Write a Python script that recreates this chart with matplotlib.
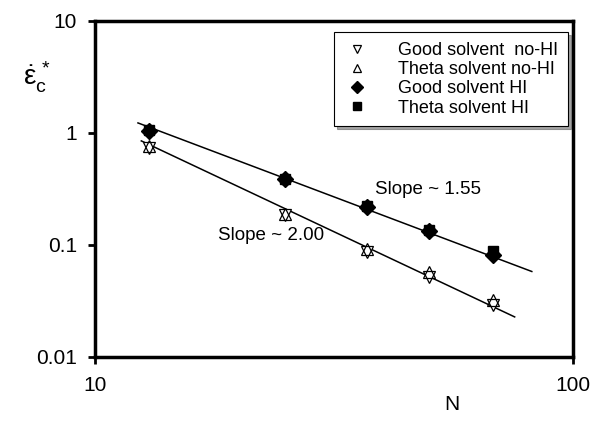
import matplotlib
matplotlib.use("Agg")
import matplotlib.pyplot as plt
from matplotlib.ticker import FixedLocator, FixedFormatter, NullLocator

# Data
N = [13, 25, 37, 50, 68]
good_noHI = [0.73, 0.185, 0.087, 0.052, 0.029]
theta_noHI = [0.77, 0.19, 0.092, 0.057, 0.032]
good_HI = [1.05, 0.385, 0.22, 0.133, 0.082]
theta_HI = [1.06, 0.39, 0.222, 0.136, 0.088]

# fitted power-law lines (end points)
fit_hi_N = [12.3, 82]
fit_hi = [1.23, 0.058]
fit_lo_N = [12.5, 75.5]
fit_lo = [0.85, 0.0228]

plt.rcParams["font.family"] = ["Liberation Sans", "DejaVu Sans"]
plt.rcParams["mathtext.fontset"] = "custom"
plt.rcParams["mathtext.rm"] = "Liberation Sans"
plt.rcParams["mathtext.it"] = "Liberation Sans"

W, H = 594, 422
fig = plt.figure(figsize=(W / 100, H / 100), dpi=100)
ax = fig.add_axes([95 / W, 1 - 357 / H, 478 / W, 336 / H])

ax.plot(fit_hi_N, fit_hi, color="black", lw=1.1, zorder=1)
ax.plot(fit_lo_N, fit_lo, color="black", lw=1.1, zorder=1)

ax.plot(N, good_noHI, linestyle="none", marker="v", ms=8, mfc="white",
        mec="black", mew=0.9, label="Good solvent  no-HI", zorder=3)
ax.plot(N, theta_noHI, linestyle="none", marker="^", ms=8, mfc="none",
        mec="black", mew=0.9, label="Theta solvent no-HI", zorder=4)
ax.plot(N, theta_HI, linestyle="none", marker="s", ms=7, mfc="black",
        mec="black", label="Theta solvent HI", zorder=3)
ax.plot(N, good_HI, linestyle="none", marker="D", ms=8, mfc="black",
        mec="black", label="Good solvent HI", zorder=4)

ax.set_xscale("log")
ax.set_yscale("log")
ax.set_xlim(10, 100)
ax.set_ylim(0.01, 10)

ax.xaxis.set_major_locator(FixedLocator([10, 100]))
ax.xaxis.set_major_formatter(FixedFormatter(["10", "100"]))
ax.xaxis.set_minor_locator(NullLocator())
ax.yaxis.set_major_locator(FixedLocator([0.01, 0.1, 1, 10]))
ax.yaxis.set_major_formatter(FixedFormatter(["0.01", "0.1", "1", "10"]))
ax.yaxis.set_minor_locator(NullLocator())
ax.tick_params(direction="out", length=5, width=2, labelsize=15, pad=8)
ax.tick_params(axis="x", pad=9)

for sp in ax.spines.values():
    sp.set_linewidth(2.5)
    sp.set_color("black")

handles, labels = ax.get_legend_handles_labels()
order = [0, 1, 3, 2]
leg = ax.legend([handles[i] for i in order], [labels[i] for i in order],
                loc="upper right", bbox_to_anchor=(0.99, 0.967),
                borderaxespad=0, fontsize=13, frameon=True, fancybox=False,
                shadow=True, borderpad=0.55, labelspacing=0.12,
                handlelength=1.4, handletextpad=1.6, markerscale=0.8)
leg.get_frame().set_edgecolor("black")
leg.get_frame().set_linewidth(0.8)

fig.text(375 / W, 1 - 190 / H, "Slope ~ 1.55", fontsize=13.5,
         va="center", ha="left")
fig.text(218 / W, 1 - 235 / H, "Slope ~ 2.00", fontsize=13.5,
         va="center", ha="left")

fig.text(37 / W, 1 - 77 / H, r"$\dot{\varepsilon}_{\mathrm{c}}^{\,*}$",
         fontsize=20, ha="center", va="center")
fig.text(452 / W, 1 - 405 / H, "N", fontsize=15, ha="center", va="center")

fig.savefig("out.png", dpi=100)
